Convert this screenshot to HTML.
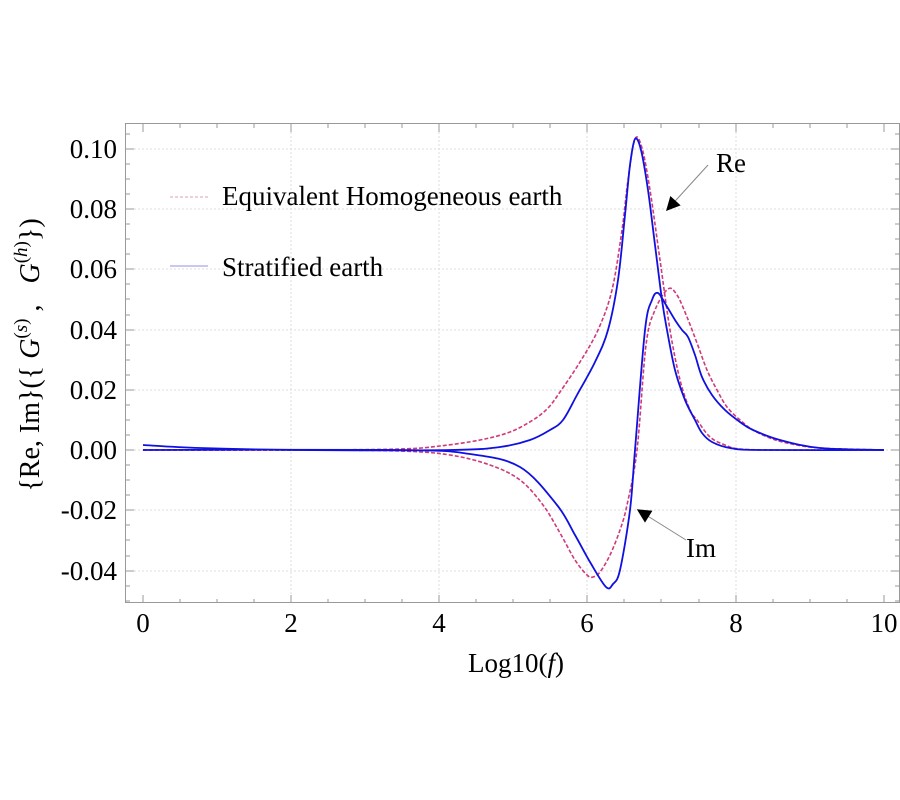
<!DOCTYPE html>
<html><head><meta charset="utf-8"><style>
body{margin:0;background:#fff}
svg{display:block}
text{font-family:"Liberation Serif",serif;fill:#000}
</style></head><body>
<svg width="900" height="800" viewBox="0 0 900 800">
<defs><marker id="ah" viewBox="0 0 10 10" refX="9" refY="5" markerWidth="22" markerHeight="14" markerUnits="userSpaceOnUse" orient="auto"><path d="M0,0 L10,5 L0,10 z" fill="#000"/></marker></defs>
<g stroke="#ddd" stroke-width="1" stroke-dasharray="2,2">
<line x1="291" y1="124" x2="291" y2="602"/><line x1="439" y1="124" x2="439" y2="602"/><line x1="587" y1="124" x2="587" y2="602"/><line x1="736" y1="124" x2="736" y2="602"/>
<line x1="126" y1="149" x2="899" y2="149"/><line x1="126" y1="209" x2="899" y2="209"/><line x1="126" y1="269" x2="899" y2="269"/><line x1="126" y1="330" x2="899" y2="330"/><line x1="126" y1="390" x2="899" y2="390"/><line x1="126" y1="450" x2="899" y2="450"/><line x1="126" y1="510" x2="899" y2="510"/><line x1="126" y1="571" x2="899" y2="571"/>
</g>
<rect x="125.5" y="123.5" width="774" height="479" fill="none" stroke="#999"/>
<g stroke="#999" stroke-width="1">
<path d="M143,603v-8M291,603v-8M439,603v-8M587,603v-8M736,603v-8M884,603v-8M143,124v8M291,124v8M439,124v8M587,124v8M736,124v8M884,124v8"/>
<path d="M180,603v-4M217,603v-4M254,603v-4M328,603v-4M365,603v-4M402,603v-4M476,603v-4M513,603v-4M550,603v-4M624,603v-4M661,603v-4M699,603v-4M773,603v-4M810,603v-4M847,603v-4M180,124v4M217,124v4M254,124v4M328,124v4M365,124v4M402,124v4M476,124v4M513,124v4M550,124v4M624,124v4M661,124v4M699,124v4M773,124v4M810,124v4M847,124v4"/>
<path d="M126,149h8M126,209h8M126,269h8M126,330h8M126,390h8M126,450h8M126,510h8M126,571h8M899,149h-8M899,209h-8M899,269h-8M899,330h-8M899,390h-8M899,450h-8M899,510h-8M899,571h-8"/>
<path d="M126,134h4M126,164h4M126,179h4M126,194h4M126,224h4M126,239h4M126,254h4M126,284h4M126,299h4M126,315h4M126,345h4M126,360h4M126,375h4M126,405h4M126,420h4M126,435h4M126,465h4M126,480h4M126,495h4M126,525h4M126,540h4M126,556h4M126,586h4M126,601h4M899,134h-4M899,164h-4M899,179h-4M899,194h-4M899,224h-4M899,239h-4M899,254h-4M899,284h-4M899,299h-4M899,315h-4M899,345h-4M899,360h-4M899,375h-4M899,405h-4M899,420h-4M899,435h-4M899,465h-4M899,480h-4M899,495h-4M899,525h-4M899,540h-4M899,556h-4M899,586h-4M899,601h-4"/>
</g>
<g fill="none" stroke="#d03a7a" stroke-width="1.6" stroke-dasharray="4,2">
<path id="d1" d=""/>
<path id="d2" d=""/>
</g>
<g fill="none" stroke="#1010e0" stroke-width="1.8">
<path id="b1" d=""/>
<path id="b2" d=""/>
</g>
<line x1="708" y1="165" x2="667" y2="210" stroke="#888" stroke-width="1" marker-end="url(#ah)"/>
<line x1="686" y1="540" x2="638" y2="510" stroke="#888" stroke-width="1" marker-end="url(#ah)"/>
<text x="716" y="172" font-size="27">Re</text>
<text x="686" y="557" font-size="27">Im</text>
<line x1="170" y1="197" x2="208" y2="197" stroke="#d8a0c0" stroke-width="1" stroke-dasharray="3,2"/>
<line x1="170" y1="266" x2="208" y2="266" stroke="#9090e0" stroke-width="1"/>
<text x="222" y="205" font-size="27">Equivalent Homogeneous earth</text>
<text x="222" y="276" font-size="27">Stratified earth</text>
<g font-size="27" text-anchor="end">
<text x="117" y="158">0.10</text><text x="117" y="218">0.08</text><text x="117" y="278">0.06</text><text x="117" y="339">0.04</text><text x="117" y="399">0.02</text><text x="117" y="459">0.00</text><text x="117" y="519">-0.02</text><text x="117" y="580">-0.04</text>
</g>
<g font-size="27" text-anchor="middle">
<text x="143" y="632">0</text><text x="291" y="632">2</text><text x="439" y="632">4</text><text x="587" y="632">6</text><text x="736" y="632">8</text><text x="884" y="632">10</text>
<text x="516" y="672">Log10(<tspan font-style="italic">f</tspan>)</text>
</g>
<text transform="translate(39,355) rotate(-90)" font-size="28" text-anchor="middle" xml:space="preserve">{Re, Im}({ <tspan font-style="italic">G</tspan><tspan font-size="19" dy="-12">(<tspan font-style="italic">s</tspan>)</tspan><tspan dy="12"> ,   </tspan><tspan font-style="italic">G</tspan><tspan font-size="19" dy="-12">(<tspan font-style="italic">h</tspan>)</tspan><tspan dy="12">})</tspan></text>
</svg>
<script>
function sm(s){var p=s.trim().split(/\s+/).map(function(t){return t.split(',').map(Number)});
var d='M'+p[0][0]+','+p[0][1];
for(var i=0;i<p.length-1;i++){var a=p[i-1]||p[i],b=p[i],c=p[i+1],e=p[i+2]||c;
d+=' C'+(b[0]+(c[0]-a[0])/6)+','+(b[1]+(c[1]-a[1])/6)+' '+(c[0]-(e[0]-b[0])/6)+','+(c[1]-(e[1]-b[1])/6)+' '+c[0]+','+c[1];}
return d;}
var D={
d1:"143,450 300,450 400,449 440,446 480,440 510,432 533,420 548,408 560,392 580,362 598,330 612,290 622,230 628,180 635,139 642,148 650,190 660,260 670,330 680,380 690,410 697,420 710,437 725,445 740,449 780,450 884,450",
d2:"143,450 300,450 400,451 450,455 490,465 520,480 543,505 560,533 575,560 587,575 593,577 600,572 610,555 620,530 627,505 637,450 646,345 655,310 668,289 677,295 687,317 697,343 707,370 717,390 727,407 740,420 753,430 770,438 787,443 820,448 884,450",
b1:"143,445 200,448 300,450 450,450 500,447 530,440 550,430 563,420 577,395 595,362 608,330 618,280 625,215 630,165 635,139 641,150 648,190 655,245 662,300 667,330 675,370 685,400 695,420 702,433 712,442 730,448 760,450 884,450",
b2:"143,450 400,450 470,454 520,467 557,505 575,535 590,562 606,587 613,584 620,570 630,510 635,450 645,330 652,300 658,293 666,305 675,320 682,330 688,337 695,355 702,377 712,395 725,410 740,422 753,430 780,440 820,448 884,450"};
for(var k in D)document.getElementById(k).setAttribute('d',sm(D[k]));
</script>
</body></html>
